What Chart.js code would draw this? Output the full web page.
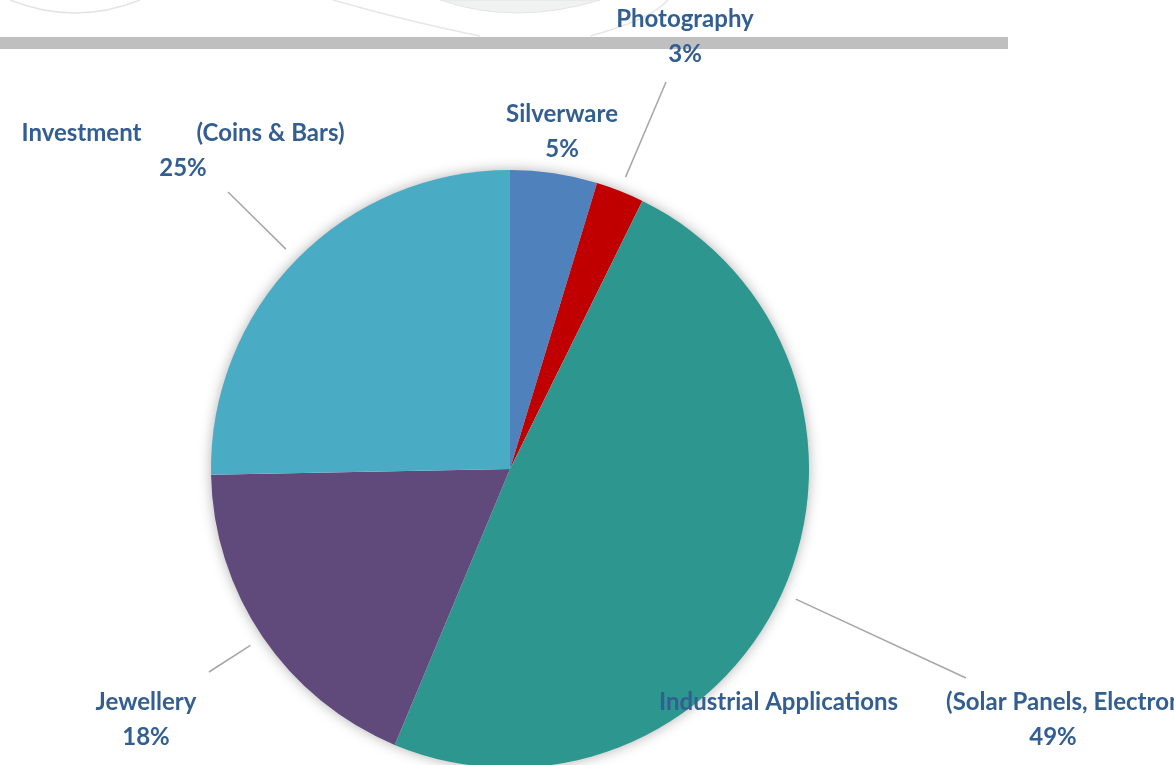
<!DOCTYPE html>
<html>
<head>
<meta charset="utf-8">
<script src="https://cdn.jsdelivr.net/npm/chart.js@4.4.1/dist/chart.umd.min.js"></script>
<style>
   html, body { margin: 0; padding: 0; background: #fff; overflow: hidden; }
   #wrap { position: relative; width: 1174px; height: 770px; }
   #deco { position: absolute; left: 0; top: 0; }
   #bar { position: absolute; left: 0; top: 37px; width: 1008px; height: 12px; background: #bfbfbf; }
   #box { position: absolute; left: 0; top: 0; width: 1174px; height: 770px; }
</style>
</head>
<body>
<div id="wrap">
   <svg id="deco" width="1174" height="60">
      <path d="M10,0 Q75,26 140,0" fill="none" stroke="#e4e4e4" stroke-width="1.5"/>
      <path d="M440,0 Q515,26 600,0 Z" fill="#f0f1f1" stroke="#e4e4e4" stroke-width="1"/>
      <path d="M333,0 Q410,22 480,36" fill="none" stroke="#e6e6e6" stroke-width="1.5"/>
      <path d="M590,36 Q650,20 668,0" fill="none" stroke="#e6e6e6" stroke-width="1.5"/>
   </svg>
   <div id="bar"></div>
   <div id="box"><canvas id="chartSilver"></canvas></div>
</div>
<script>
// silver demand by sector (share of total, %)
const categories = ['Silverware', 'Photography', 'Industrial Applications (Solar Panels, Electronics, Electric Vehicles etc.)', 'Jewellery', 'Investment (Coins & Bars)'];
const shares = [4.7, 2.6, 49, 18.4, 25.3];
const shareLabels = ['5%', '3%', '49%', '18%', '25%'];
const colors = ['#4f81bd', '#c00000', '#2c968f', '#604a7b', '#4aabc5'];

// label placement: name line centre, gap between name parts, leader line end
const labelLayout = [
   { x: 562, y: 114, gap: 0, line: null },
   { x: 685, y: 19, gap: 0, line: [666, 82] },
   { x: 1053, y: 702, gap: 48, line: [966, 678] },
   { x: 146, y: 702, gap: 0, line: [209, 672] },
   { x: 183, y: 133, gap: 55, line: [228, 192] },
];

const LABEL_FONT = "bold 24px 'Lato'";
const LABEL_COLOR = '#335e92';

const pieShadow = {
   id: 'pieShadow',
   beforeDatasetsDraw(chart) {
      const arc = chart.getDatasetMeta(0).data[0];
      const ctx = chart.ctx;
      ctx.save();
      ctx.shadowColor = 'rgba(0,0,0,0.35)';
      ctx.shadowBlur = 14;
      ctx.fillStyle = '#ffffff';
      ctx.beginPath();
      ctx.arc(arc.x, arc.y, arc.outerRadius - 1, 0, Math.PI * 2);
      ctx.fill();
      ctx.restore();
   }
};

const sliceLabels = {
   id: 'sliceLabels',
   afterDraw(chart) {
      const ctx = chart.ctx;
      const meta = chart.getDatasetMeta(0);
      meta.data.forEach((arc, i) => {
         const lay = labelLayout[i];
         ctx.save();
         if (lay.line) {
            const mid = (arc.startAngle + arc.endAngle) / 2;
            const r = arc.outerRadius * 1.05;
            ctx.strokeStyle = '#a6a6a6';
            ctx.lineWidth = 1.5;
            ctx.beginPath();
            ctx.moveTo(arc.x + Math.cos(mid) * r, arc.y + Math.sin(mid) * r);
            ctx.lineTo(lay.line[0], lay.line[1]);
            ctx.stroke();
         }
         ctx.font = LABEL_FONT;
         ctx.fillStyle = LABEL_COLOR;
         ctx.textBaseline = 'middle';
         const name = categories[i];
         const cut = name.indexOf(' (');
         if (cut > 0) {
            const p1 = name.slice(0, cut);
            const p2 = name.slice(cut + 1);
            const w1 = ctx.measureText(p1).width;
            const w2 = ctx.measureText(p2).width;
            const left = lay.x - (w1 + lay.gap + w2) / 2;
            ctx.textAlign = 'left';
            ctx.fillText(p1, left, lay.y);
            ctx.fillText(p2, left + w1 + lay.gap, lay.y);
         } else {
            ctx.textAlign = 'center';
            ctx.fillText(name, lay.x, lay.y);
         }
         ctx.textAlign = 'center';
         ctx.fillText(shareLabels[i], lay.x, lay.y + 35);
         ctx.restore();
      });
   }
};

const ctx = document.getElementById('chartSilver').getContext('2d');
const chartSilver = new Chart(ctx, {
   type: 'pie',
   data: {
      labels: categories,
      datasets: [{
         data: shares,
         backgroundColor: colors,
         borderWidth: 0,
      }]
   },
   options: {
      responsive: true,
      maintainAspectRatio: false,
      animation: false,
      layout: {
         padding: { top: 170, bottom: 2, left: 211, right: 365 }
      },
      plugins: {
         legend: { display: false },
         tooltip: { enabled: false },
      }
   },
   plugins: [pieShadow, sliceLabels]
});
</script>
</body>
</html>
